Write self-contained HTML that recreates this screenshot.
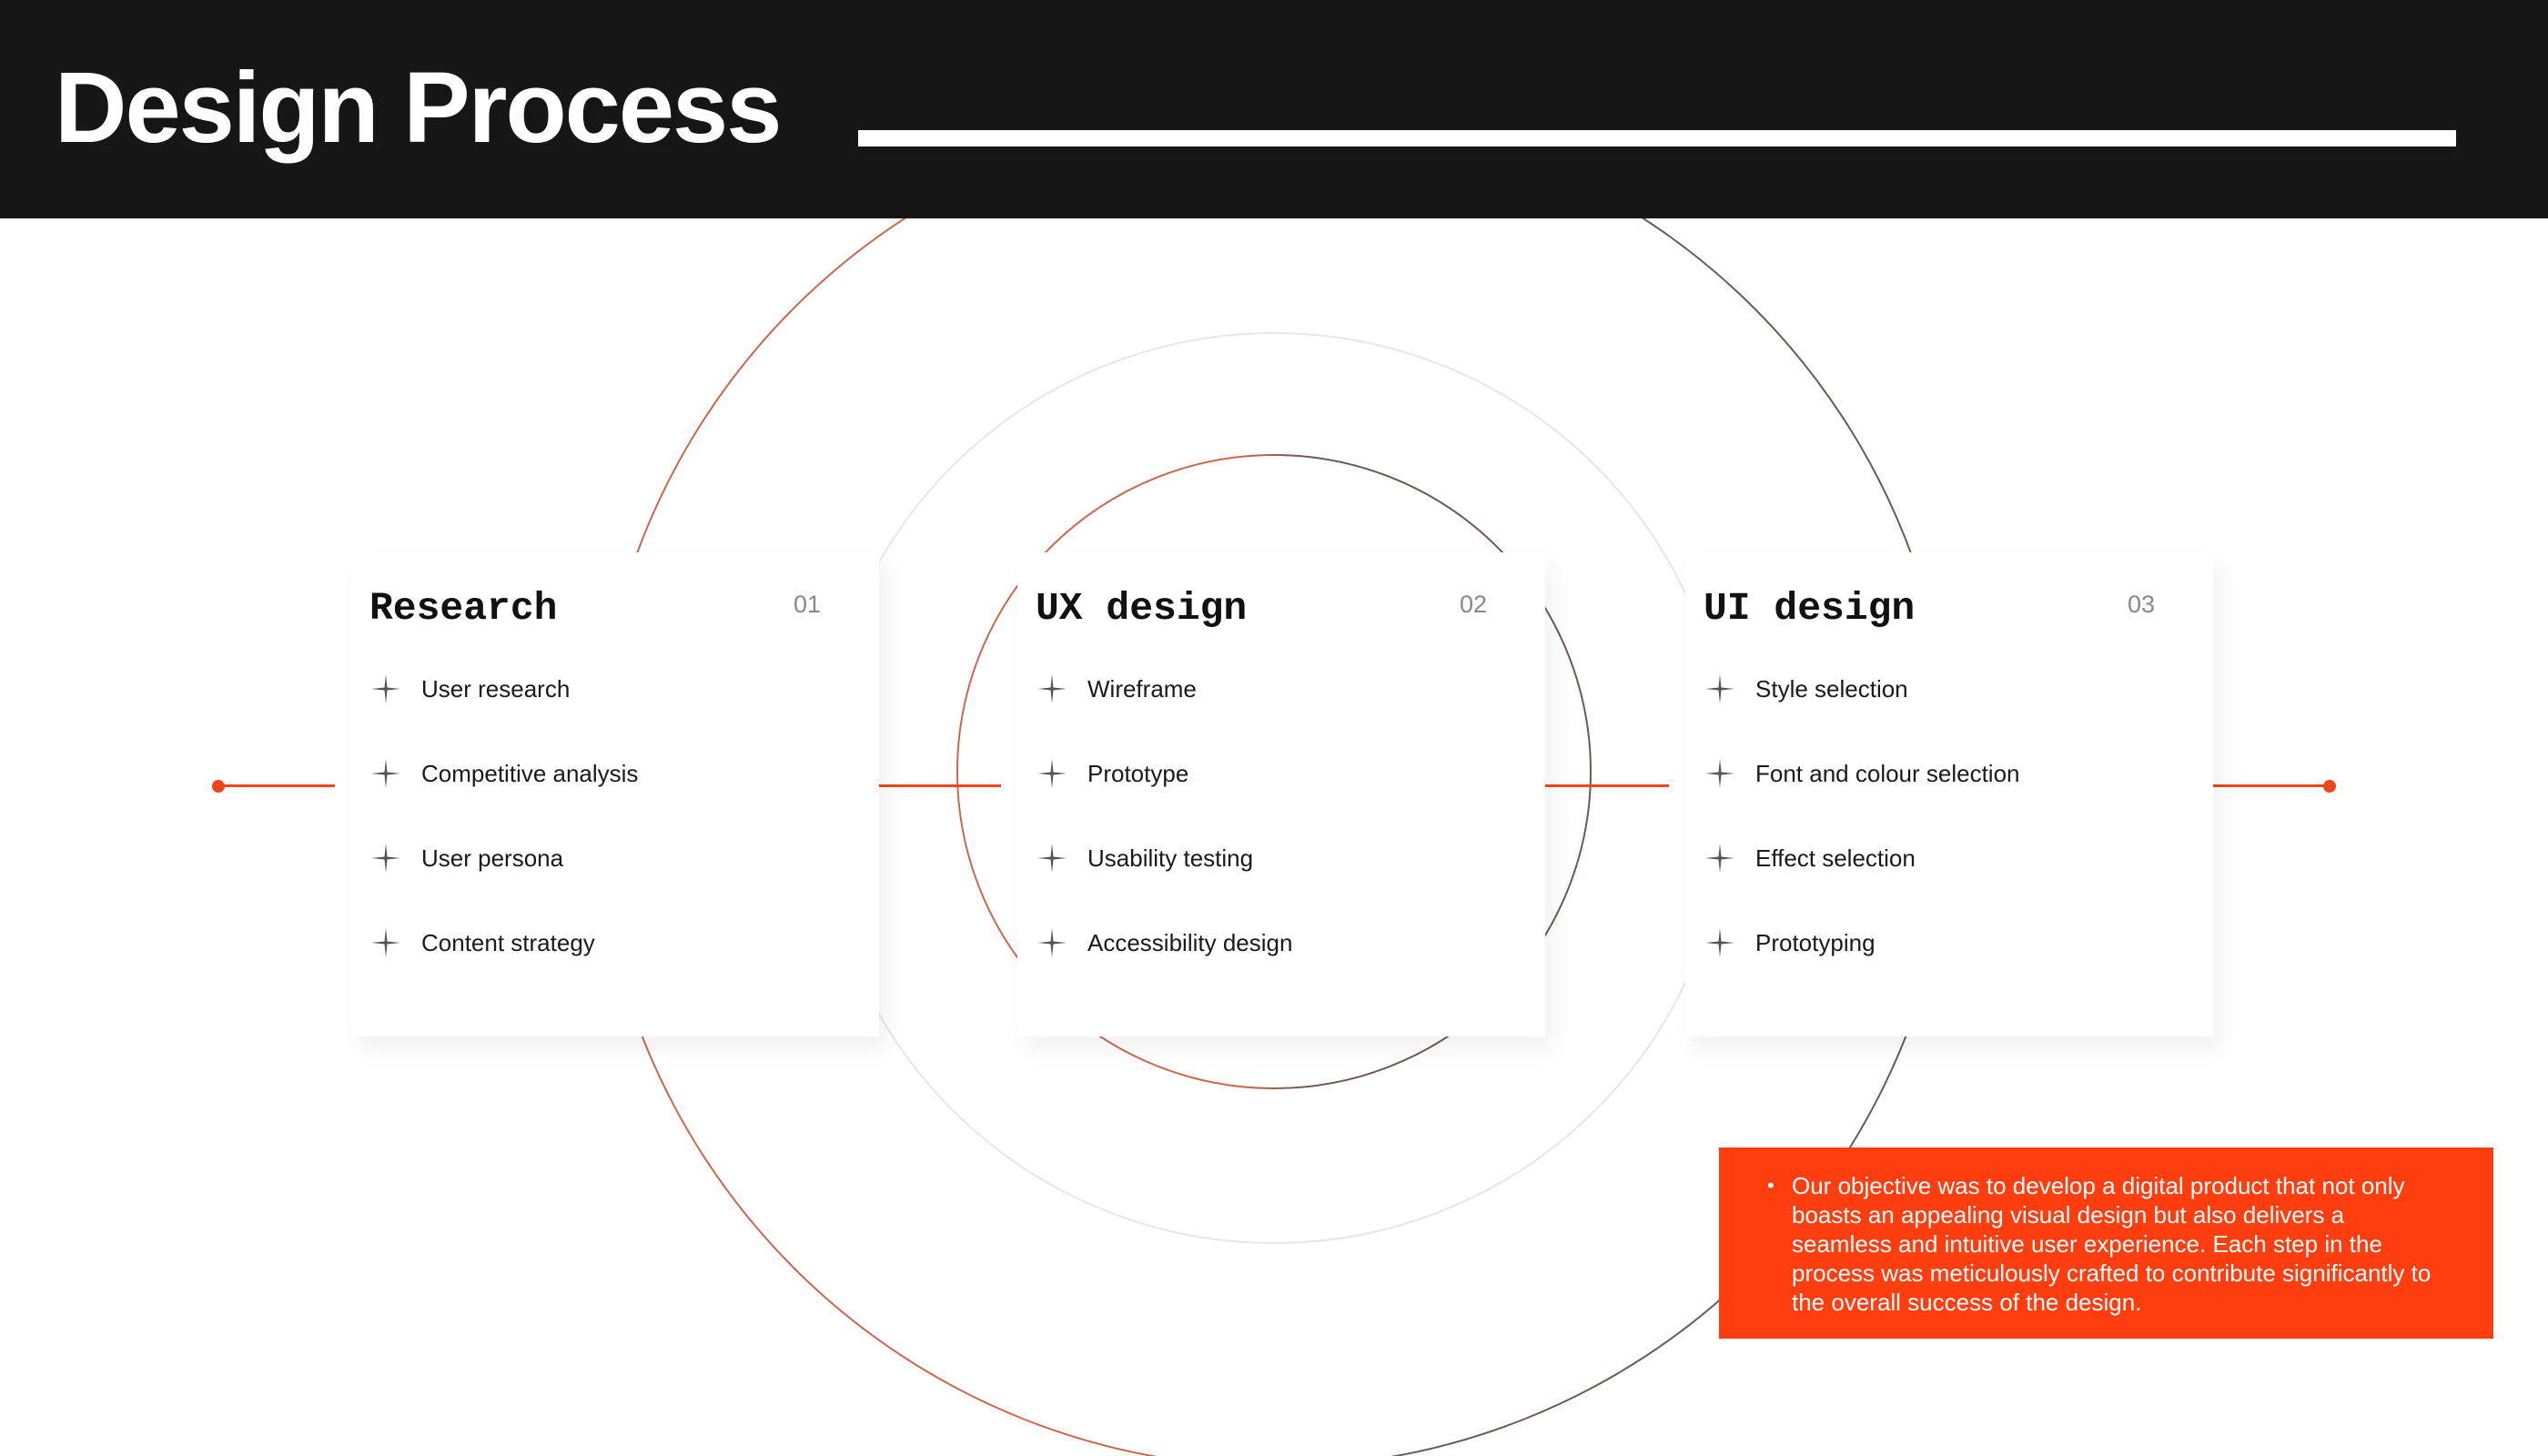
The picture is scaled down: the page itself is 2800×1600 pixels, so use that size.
<!DOCTYPE html>
<html><head><meta charset="utf-8"><style>
*{margin:0;padding:0;box-sizing:border-box}
body{width:2800px;height:1600px;background:#fff;position:relative;overflow:hidden;font-family:"Liberation Sans",sans-serif}
.hdr{position:absolute;left:0;top:0;width:2800px;height:240px;background:#161616}
.title{position:absolute;left:60px;top:64px;font-size:110px;font-weight:bold;color:#fff;line-height:1;letter-spacing:-2px}
.hline{position:absolute;left:943px;top:143px;width:1756px;height:18px;background:#fff}
svg.bg{position:absolute;left:0;top:0}
.card{position:absolute;top:607px;width:580px;height:532px;background:#fff;box-shadow:8px 14px 24px rgba(0,0,0,0.06)}
.card h2{position:absolute;left:20px;top:40px;font-family:"Liberation Mono",monospace;font-weight:bold;font-size:43px;color:#111;line-height:1}
.card .num{position:absolute;right:64px;top:44px;font-size:27px;color:#888;line-height:1}
.item{position:absolute;left:22px;height:40px;font-size:26px;color:#1a1a1a;line-height:40px;white-space:nowrap}
.item svg{position:absolute;left:0;top:4px}
.item span{position:absolute;left:55px;top:0}
.conn{position:absolute;top:862px;height:3px;background:#f0461c}
.dot{position:absolute;top:857px;width:14px;height:14px;border-radius:50%;background:#f0461c}
.box{position:absolute;left:1889px;top:1261px;width:851px;height:210px;background:#ff3d0f;color:#fff;font-size:26px;line-height:32px}
.box .b{position:absolute;left:53px;top:26px;font-size:22px}
.box .t{position:absolute;left:80px;top:26px;white-space:nowrap}
</style></head><body>
<svg class="bg" width="2800" height="1600" viewBox="0 0 2800 1600">
<defs>
<linearGradient id="g1" x1="0" x2="1" y1="0" y2="0"><stop offset="0.45" stop-color="#c9684f"/><stop offset="0.55" stop-color="#6b5a55"/></linearGradient>
</defs>
<circle cx="1400" cy="866" r="746" fill="none" stroke="url(#g1)" stroke-width="2"/>
<circle cx="1400" cy="866" r="500" fill="none" stroke="#e6e6e6" stroke-width="2"/>
<circle cx="1400" cy="848" r="348" fill="none" stroke="url(#g1)" stroke-width="2"/>
</svg>
<div class="hdr"><div class="title">Design Process</div><div class="hline"></div></div>

<div class="conn" style="left:239px;width:129px"></div><div class="dot" style="left:233px"></div>
<div class="conn" style="left:966px;width:134px"></div>
<div class="conn" style="left:1698px;width:136px"></div>
<div class="conn" style="left:2432px;width:129px"></div><div class="dot" style="left:2553px"></div>

<div class="card" style="left:386px"><h2>Research</h2><div class="num">01</div>
<div class="item" style="top:130px"><svg width="32" height="32" viewBox="0 0 32 32"><path d="M16 0 L17.5 14.5 L32 16 L17.5 17.5 L16 32 L14.5 17.5 L0 16 L14.5 14.5Z" fill="#555"/></svg><span>User research</span></div>
<div class="item" style="top:223px"><svg width="32" height="32" viewBox="0 0 32 32"><path d="M16 0 L17.5 14.5 L32 16 L17.5 17.5 L16 32 L14.5 17.5 L0 16 L14.5 14.5Z" fill="#555"/></svg><span>Competitive analysis</span></div>
<div class="item" style="top:316px"><svg width="32" height="32" viewBox="0 0 32 32"><path d="M16 0 L17.5 14.5 L32 16 L17.5 17.5 L16 32 L14.5 17.5 L0 16 L14.5 14.5Z" fill="#555"/></svg><span>User persona</span></div>
<div class="item" style="top:409px"><svg width="32" height="32" viewBox="0 0 32 32"><path d="M16 0 L17.5 14.5 L32 16 L17.5 17.5 L16 32 L14.5 17.5 L0 16 L14.5 14.5Z" fill="#555"/></svg><span>Content strategy</span></div>
</div>

<div class="card" style="left:1118px"><h2>UX design</h2><div class="num">02</div>
<div class="item" style="top:130px"><svg width="32" height="32" viewBox="0 0 32 32"><path d="M16 0 L17.5 14.5 L32 16 L17.5 17.5 L16 32 L14.5 17.5 L0 16 L14.5 14.5Z" fill="#555"/></svg><span>Wireframe</span></div>
<div class="item" style="top:223px"><svg width="32" height="32" viewBox="0 0 32 32"><path d="M16 0 L17.5 14.5 L32 16 L17.5 17.5 L16 32 L14.5 17.5 L0 16 L14.5 14.5Z" fill="#555"/></svg><span>Prototype</span></div>
<div class="item" style="top:316px"><svg width="32" height="32" viewBox="0 0 32 32"><path d="M16 0 L17.5 14.5 L32 16 L17.5 17.5 L16 32 L14.5 17.5 L0 16 L14.5 14.5Z" fill="#555"/></svg><span>Usability testing</span></div>
<div class="item" style="top:409px"><svg width="32" height="32" viewBox="0 0 32 32"><path d="M16 0 L17.5 14.5 L32 16 L17.5 17.5 L16 32 L14.5 17.5 L0 16 L14.5 14.5Z" fill="#555"/></svg><span>Accessibility design</span></div>
</div>

<div class="card" style="left:1852px"><h2>UI design</h2><div class="num">03</div>
<div class="item" style="top:130px"><svg width="32" height="32" viewBox="0 0 32 32"><path d="M16 0 L17.5 14.5 L32 16 L17.5 17.5 L16 32 L14.5 17.5 L0 16 L14.5 14.5Z" fill="#555"/></svg><span>Style selection</span></div>
<div class="item" style="top:223px"><svg width="32" height="32" viewBox="0 0 32 32"><path d="M16 0 L17.5 14.5 L32 16 L17.5 17.5 L16 32 L14.5 17.5 L0 16 L14.5 14.5Z" fill="#555"/></svg><span>Font and colour selection</span></div>
<div class="item" style="top:316px"><svg width="32" height="32" viewBox="0 0 32 32"><path d="M16 0 L17.5 14.5 L32 16 L17.5 17.5 L16 32 L14.5 17.5 L0 16 L14.5 14.5Z" fill="#555"/></svg><span>Effect selection</span></div>
<div class="item" style="top:409px"><svg width="32" height="32" viewBox="0 0 32 32"><path d="M16 0 L17.5 14.5 L32 16 L17.5 17.5 L16 32 L14.5 17.5 L0 16 L14.5 14.5Z" fill="#555"/></svg><span>Prototyping</span></div>
</div>

<div class="box"><div class="b">•</div><div class="t">Our objective was to develop a digital product that not only<br>boasts an appealing visual design but also delivers a<br>seamless and intuitive user experience. Each step in the<br>process was meticulously crafted to contribute significantly to<br>the overall success of the design.</div></div>
</body></html>
